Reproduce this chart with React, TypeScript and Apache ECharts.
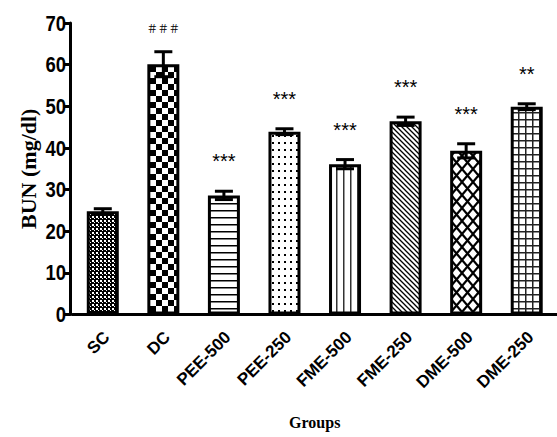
import React, { useEffect, useRef } from "react";
import * as echarts from "echarts";

const categories = ["SC", "DC", "PEE-500", "PEE-250", "FME-500", "FME-250", "DME-500", "DME-250"];
const means = [24.8, 60.1, 28.6, 43.9, 36.1, 46.4, 39.3, 49.9];
const errors = [0.6, 3.0, 1.0, 0.7, 1.1, 1.0, 1.7, 0.7];
const significance = ["", "＃＃＃", "***", "***", "***", "***", "***", "**"];
const yTickValues = [0, 10, 20, 30, 40, 50, 60, 70];

function makePattern(w: number, h: number, draw: (ctx: CanvasRenderingContext2D) => void) {
  const c = document.createElement("canvas");
  c.width = w;
  c.height = h;
  const ctx = c.getContext("2d")!;
  ctx.fillStyle = "#fff";
  ctx.fillRect(0, 0, w, h);
  ctx.fillStyle = "#000";
  ctx.strokeStyle = "#000";
  draw(ctx);
  return { image: c.toDataURL(), repeat: "repeat", imageWidth: w, imageHeight: h } as any;
}

function buildPatterns() {
  return [
    makePattern(4, 4, (c) => { c.fillRect(0, 0, 4, 4); c.fillStyle = "#fff"; c.fillRect(0, 0, 2, 2); c.fillRect(2, 2, 1, 1); }),
    makePattern(12, 12, (c) => { c.fillRect(0, 0, 6, 6); c.fillRect(6, 6, 6, 6); }),
    makePattern(8, 7, (c) => { c.fillRect(0, 0, 8, 1.5); }),
    makePattern(6, 7, (c) => { c.fillRect(2, 2, 2, 2); }),
    makePattern(7, 8, (c) => { c.fillStyle = "#333"; c.fillRect(0, 0, 1.5, 8); }),
    makePattern(5, 5, (c) => {
      c.lineWidth = 1.3; c.beginPath();
      c.moveTo(-1, -1); c.lineTo(6, 6); c.moveTo(-1, 4); c.lineTo(1, 6); c.moveTo(4, -1); c.lineTo(6, 1);
      c.stroke();
    }),
    makePattern(11, 13, (c) => { c.lineWidth = 2.2; c.beginPath(); c.moveTo(0, 0); c.lineTo(11, 13); c.moveTo(11, 0); c.lineTo(0, 13); c.stroke(); }),
    makePattern(7, 7, (c) => { c.fillStyle = "#222"; c.fillRect(0, 0, 7, 1.5); c.fillRect(0, 0, 1.5, 7); }),
  ];
}

const GRID_LEFT = 72.5;
const Y_OFFSET = 2.5;
const boldSans = (s: number) => "bold " + s + "px 'Liberation Sans', Arial, sans-serif";

export default function App() {
  const ref = useRef<HTMLDivElement>(null);
  useEffect(() => {
    const chart = echarts.init(ref.current!, null, { renderer: "svg" });
    const patterns = buildPatterns();
    chart.setOption({
      animation: false,
      backgroundColor: "#fff",
      grid: { left: GRID_LEFT, top: 23, width: 487, height: 291.5 },
      xAxis: {
        type: "category",
        data: categories,
        name: "Groups",
        nameLocation: "middle",
        nameGap: 100,
        nameTextStyle: { fontFamily: "'Liberation Serif', serif", fontWeight: "bold", fontSize: 16, color: "#000" },
        axisLine: { lineStyle: { color: "#000", width: 3 } },
        axisTick: { alignWithLabel: true, length: 10, lineStyle: { color: "#000", width: 3 } },
        axisLabel: { show: false },
        splitLine: { show: false },
      },
      yAxis: {
        type: "value",
        min: 0,
        max: 70,
        interval: 10,
        offset: Y_OFFSET,
        name: "BUN (mg/dl)",
        nameLocation: "middle",
        nameGap: 31,
        nameTextStyle: { fontFamily: "'Liberation Serif', serif", fontWeight: "bold", fontSize: 22, color: "#000" },
        axisLine: { show: true, lineStyle: { color: "#000", width: 3 } },
        axisTick: { show: true, length: 6, lineStyle: { color: "#000", width: 3 } },
        axisLabel: { show: false },
        splitLine: { show: false },
      },
      series: [
        {
          type: "bar",
          barWidth: 32,
          data: means.map((v, i) => ({ value: v, itemStyle: { color: patterns[i], borderColor: "#000", borderWidth: 3 } })),
        },
        {
          type: "custom",
          z: 10,
          data: means.map((v, i) => [i, v, errors[i]]),
          renderItem: (params: any, api: any) => {
            const i = api.value(0), m = api.value(1), e = api.value(2);
            const t = api.coord([i, m + e]);
            const b = api.coord([i, m - e]);
            const ls = { stroke: "#000", lineWidth: 3 };
            const children: any[] = [
              { type: "line", shape: { x1: t[0], y1: t[1], x2: t[0], y2: b[1] }, style: ls },
              { type: "line", shape: { x1: t[0] - 9, y1: t[1], x2: t[0] + 9, y2: t[1] }, style: ls },
              { type: "line", shape: { x1: t[0] - 9, y1: b[1], x2: t[0] + 9, y2: b[1] }, style: ls },
            ];
            const sig = significance[params.dataIndex];
            if (sig) {
              const isHash = sig.charAt(0) !== "*";
              children.push({
                type: "text",
                style: {
                  text: sig,
                  x: t[0],
                  y: t[1] - (isHash ? 24 : 30),
                  textAlign: "center",
                  textVerticalAlign: "middle",
                  fill: "#000",
                  font: isHash ? "11px 'Noto Sans CJK SC', sans-serif" : "20px 'Liberation Sans', Arial, sans-serif",
                },
              });
            }
            return { type: "group", children };
          },
        },
      ],
    });
    const g: any[] = [];
    categories.forEach((c, i) => {
      const q = chart.convertToPixel({ gridIndex: 0 }, [i, 0]) as number[];
      g.push({
        type: "text",
        x: q[0] + 4,
        y: q[1] + 20,
        rotation: Math.PI / 4,
        style: { text: c, textAlign: "right", textVerticalAlign: "middle", fill: "#000", font: boldSans(17) },
      });
    });
    yTickValues.forEach((v) => {
      const q = chart.convertToPixel({ gridIndex: 0 }, [0, v]) as number[];
      g.push({
        type: "text",
        x: GRID_LEFT - Y_OFFSET - 4,
        y: q[1],
        scaleX: 0.84,
        style: { text: String(v), textAlign: "right", textVerticalAlign: "middle", fill: "#000", font: boldSans(22) },
      });
    });
    chart.setOption({ graphic: g });
    return () => chart.dispose();
  }, []);
  return <div ref={ref} style={{ position: "fixed", left: 0, top: 0, width: 557, height: 437 }} />;
}
